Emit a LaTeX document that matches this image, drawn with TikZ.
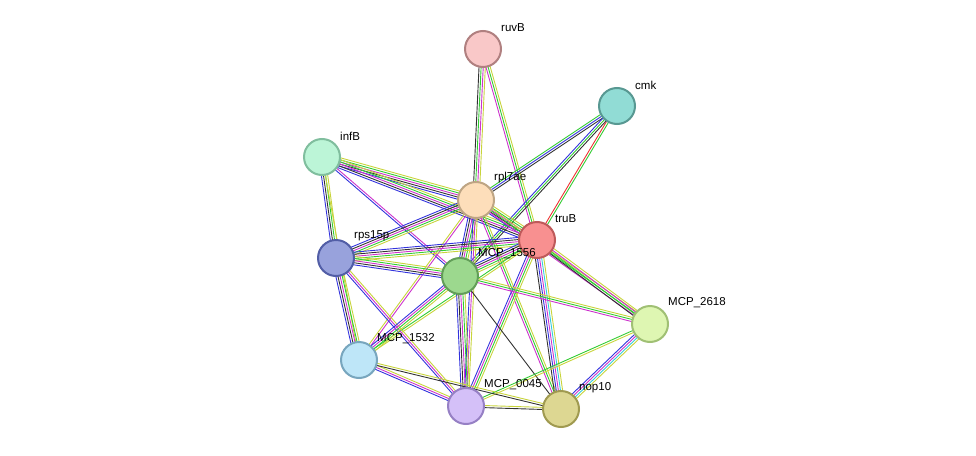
\documentclass[tikz,border=0pt]{standalone}
\usepackage{fontspec}
\setmainfont{Liberation Sans}
\usetikzlibrary{calc}
\definecolor{cG}{HTML}{33CC33}
\definecolor{cB}{HTML}{3333DD}
\definecolor{cM}{HTML}{CC33CC}
\definecolor{cY}{HTML}{C8D43C}
\definecolor{cK}{HTML}{333333}
\definecolor{cR}{HTML}{EE3333}
\definecolor{cC}{HTML}{33CCDD}
\newcommand{\Edge}[3]{%
  \foreach \c [count=\i] in {#3}{\xdef\nn{\i}}%
  \foreach \c [count=\i] in {#3}{%
    \pgfmathsetmacro\off{(\i-(\nn+1)/2)*2.1}%
    \draw[\c,line width=0.9pt] ($(#1)!\off pt!90:(#2)$) -- ($(#2)!\off pt!-90:(#1)$);}}
\begin{document}
\begin{tikzpicture}[x=1pt,y=-1pt,
  prot/.style={circle,minimum size=36pt,inner sep=0pt,line width=2pt},
  lab/.style={anchor=west,font=\fontsize{11.5}{12}\selectfont,inner sep=0pt}]
\useasboundingbox (0,0) rectangle (976,455);
\coordinate (ruvB) at (483,49);
\coordinate (cmk) at (617,106);
\coordinate (infB) at (322,157);
\coordinate (rpl) at (476,200);
\coordinate (truB) at (537,240);
\coordinate (rps) at (336,258);
\coordinate (m56) at (460,276);
\coordinate (m18) at (650,324);
\coordinate (m32) at (359,360);
\coordinate (m45) at (466,406);
\coordinate (nop) at (561,409);
\Edge{ruvB}{rpl}{cK,cG,cM,cY}
\Edge{ruvB}{truB}{cM,cG,cY}
\Edge{cmk}{rpl}{cG,cB,cK}
\Edge{cmk}{truB}{cR,cG}
\Edge{cmk}{m56}{cB,cG,cK}
\Edge{infB}{rpl}{cB,cK,cM,cG,cY}
\Edge{infB}{truB}{cB,cK,cM,cG,cY}
\Edge{infB}{rps}{cB,cK,cG,cY}
\Edge{infB}{m56}{cB,cM}
\Edge{infB}{m32}{cY}
\Edge{rpl}{truB}{cB,cK,cM,cG,cY}
\Edge{rpl}{rps}{cB,cK,cM,cG,cY}
\Edge{rpl}{m56}{cB,cK,cM,cG,cY}
\Edge{rpl}{m32}{cY,cM}
\Edge{rpl}{m45}{cB,cM,cY}
\Edge{rpl}{nop}{cM,cG,cY}
\Edge{rpl}{m18}{cM,cG,cY}
\Edge{truB}{rps}{cB,cK,cM,cG,cY}
\Edge{truB}{m56}{cB,cK,cM,cG,cY}
\Edge{truB}{m18}{cK,cG,cM,cY}
\Edge{truB}{nop}{cK,cB,cM,cC,cY}
\Edge{truB}{m45}{cB,cM,cG,cY}
\Edge{truB}{m32}{cG,cY}
\Edge{rps}{m56}{cB,cK,cM,cG,cY}
\Edge{rps}{m32}{cB,cK,cM,cG,cY}
\Edge{rps}{m45}{cB,cM,cY}
\Edge{m56}{m18}{cM,cG,cY}
\Edge{m56}{m32}{cB,cM,cG,cY}
\Edge{m56}{m45}{cB,cK,cM,cG,cY}
\Edge{m56}{nop}{cK}
\Edge{m18}{nop}{cB,cM,cC,cY}
\Edge{m18}{m45}{cG,cY}
\Edge{m32}{m45}{cB,cM,cY}
\Edge{m32}{nop}{cK,cY}
\Edge{m45}{nop}{cK,cY}
\node[prot,fill={rgb,255:red,249;green,200;blue,200},draw={rgb,255:red,176;green,128;blue,128}] (nruvB) at (ruvB) {};
\node[prot,fill={rgb,255:red,145;green,220;blue,213},draw={rgb,255:red,88;green,152;blue,146}] (ncmk) at (cmk) {};
\node[prot,fill={rgb,255:red,188;green,245;blue,215},draw={rgb,255:red,128;green,190;blue,158}] (ninfB) at (infB) {};
\node[prot,fill={rgb,255:red,253;green,222;blue,186},draw={rgb,255:red,190;green,165;blue,132}] (nrpl) at (rpl) {};
\node[prot,fill={rgb,255:red,248;green,144;blue,144},draw={rgb,255:red,190;green,90;blue,90}] (ntruB) at (truB) {};
\node[prot,fill={rgb,255:red,152;green,162;blue,220},draw={rgb,255:red,82;green,94;blue,166}] (nrps) at (rps) {};
\node[prot,fill={rgb,255:red,156;green,216;blue,142},draw={rgb,255:red,98;green,158;blue,88}] (nm56) at (m56) {};
\node[prot,fill={rgb,255:red,222;green,246;blue,178},draw={rgb,255:red,160;green,192;blue,116}] (nm18) at (m18) {};
\node[prot,fill={rgb,255:red,190;green,230;blue,248},draw={rgb,255:red,120;green,166;blue,190}] (nm32) at (m32) {};
\node[prot,fill={rgb,255:red,212;green,192;blue,248},draw={rgb,255:red,150;green,128;blue,196}] (nm45) at (m45) {};
\node[prot,fill={rgb,255:red,221;green,215;blue,146},draw={rgb,255:red,160;green,154;blue,80}] (nnop) at (nop) {};
\node[lab] (lruvB) at ($(ruvB)+(18,-21)$) {ruvB};
\node[lab] (lcmk) at ($(cmk)+(18,-21)$) {cmk};
\node[lab] (linfB) at ($(infB)+(18,-21)$) {infB};
\node[lab] (lrpl) at ($(rpl)+(18,-22)$) {rpl7ae};
\node[lab] (ltruB) at ($(truB)+(18,-21)$) {truB};
\node[lab] (lrps) at ($(rps)+(18,-22)$) {rps15p};
\node[lab] (lm56) at ($(m56)+(18,-22)$) {MCP\_1556};
\node[lab] (lm18) at ($(m18)+(18,-21)$) {MCP\_2618};
\node[lab] (lm32) at ($(m32)+(18,-21)$) {MCP\_1532};
\node[lab] (lm45) at ($(m45)+(18,-21)$) {MCP\_0045};
\node[lab] (lnop) at ($(nop)+(18,-21)$) {nop10};
\end{tikzpicture}
\end{document}
